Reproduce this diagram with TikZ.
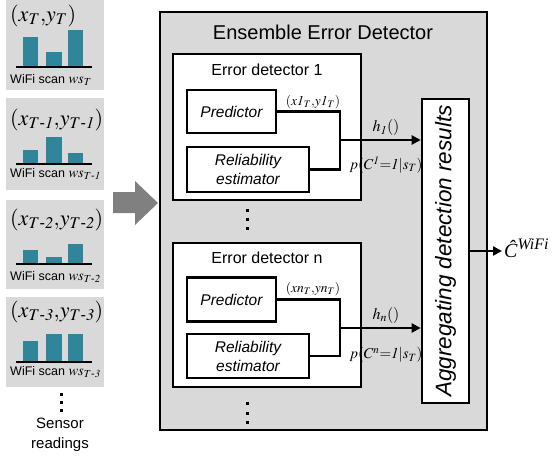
\documentclass[tikz,border=0pt]{standalone}
\usepackage{amsmath}
\usepackage{mathptmx}
\usepackage[no-math]{fontspec}
\setmainfont{Liberation Sans}
\newfontfamily\serifit{Liberation Serif}
\usetikzlibrary{arrows.meta}
\definecolor{panelgray}{RGB}{217,217,217}
\definecolor{barteal}{RGB}{49,133,155}
\definecolor{arrowgray}{RGB}{128,128,128}

\begin{document}
\begin{tikzpicture}[x=1pt,y=-1pt,
    box/.style={draw,line width=2.6pt,fill=white,inner sep=0pt},
    inbox/.style={box,align=center,font=\fontsize{15.5}{19}\selectfont\itshape},
    flow/.style={line width=2.6pt},
    flowarrow/.style={flow,-{Triangle[length=9pt,width=9pt]}},
    lbl/.style={inner sep=0pt,font=\fontsize{15}{17}\selectfont},
    panel/.style={fill=panelgray},
    bar/.style={fill=barteal},
    axis/.style={line width=2.6pt},
    coordlbl/.style={anchor=west,inner sep=0pt,font=\fontsize{22}{24}\selectfont},
    scanlbl/.style={anchor=west,inner sep=0pt,font=\fontsize{12.5}{14}\selectfont}]
    \useasboundingbox (0,0) rectangle (556,457);

    \fill[panel] (6,0) rectangle (104,90);
    \node (c1) at (10,16) [coordlbl] {$(x_T{,}y_T)$};
    \fill[bar] (23,37) rectangle (38,67);
    \fill[bar] (46,52) rectangle (62,67);
    \fill[bar] (68,30) rectangle (83,67);
    \draw[axis] (16,67) -- (92,67);
    \node (w1) at (10,80) [scanlbl] {WiFi scan \fontsize{14.5}{16}\selectfont$ws_T$};

    \fill[panel] (6,98) rectangle (104,190);
    \node (c2) at (10,120) [coordlbl] {$(x_{T\text{-}\mathit{1}}{,}y_{T\text{-}\mathit{1}})$};
    \fill[bar] (23,150) rectangle (38,164);
    \fill[bar] (46,137) rectangle (62,164);
    \fill[bar] (68,153) rectangle (83,164);
    \draw[axis] (16,164) -- (92,164);
    \node (w2) at (10,174) [scanlbl] {WiFi scan \fontsize{14.5}{16}\selectfont$ws_{T\text{-}\mathit{1}}$};

    \fill[panel] (6,200) rectangle (104,289);
    \node (c3) at (10,220) [coordlbl] {$(x_{T\text{-}\mathit{2}}{,}y_{T\text{-}\mathit{2}})$};
    \fill[bar] (23,250) rectangle (38,264);
    \fill[bar] (46,257) rectangle (62,264);
    \fill[bar] (68,244) rectangle (83,264);
    \draw[axis] (16,264) -- (92,264);
    \node (w3) at (10,277) [scanlbl] {WiFi scan \fontsize{14.5}{16}\selectfont$ws_{T\text{-}\mathit{2}}$};

    \fill[panel] (6,297) rectangle (104,387);
    \node (c4) at (10,312) [coordlbl] {$(x_{T\text{-}\mathit{3}}{,}y_{T\text{-}\mathit{3}})$};
    \fill[bar] (23,341) rectangle (38,362);
    \fill[bar] (46,334) rectangle (62,362);
    \fill[bar] (68,334) rectangle (83,362);
    \draw[axis] (16,362) -- (92,362);
    \node (w4) at (10,372) [scanlbl] {WiFi scan \fontsize{14.5}{16}\selectfont$ws_{T\text{-}\mathit{3}}$};

    \fill (59.5,392.5) rectangle ++(3,3);
    \fill (59.5,400.5) rectangle ++(3,3);
    \fill (59.5,408.5) rectangle ++(3,3);
    \node (sensor) at (60,435) [align=center,font=\fontsize{15}{20}\selectfont] {Sensor\\readings};

    \fill[arrowgray] (113,192) -- (135,192) -- (135,181) -- (158,203) -- (135,225) -- (135,213) -- (113,213) -- cycle;

    \node (ens) at (323.5,221) [box,line width=2.2pt,fill=panelgray,minimum width=327pt,minimum height=418pt] {};
    \node (enstitle) at (323,32) [font=\fontsize{20}{22}\selectfont] {Ensemble Error Detector};

    \node (ed1) at (267,127) [box,minimum width=188pt,minimum height=146pt] {};
    \node (ed1title) at (267,70) [font=\fontsize{16}{18}\selectfont] {Error detector 1};
    \node (pred1) at (231.5,111.5) [inbox,minimum width=89pt,minimum height=43pt] {Predictor};
    \node (rel1) at (248,169.5) [inbox,minimum width=122pt,minimum height=45pt] {Reliability\\estimator};

    \node (edn) at (267,315) [box,minimum width=188pt,minimum height=144pt] {};
    \node (edntitle) at (267,258) [font=\fontsize{16}{18}\selectfont] {Error detector n};
    \node (predn) at (231.5,299.5) [inbox,minimum width=89pt,minimum height=44pt] {Predictor};
    \node (reln) at (248,356) [inbox,minimum width=122pt,minimum height=44pt] {Reliability\\estimator};

    \node (agg) at (445.5,251) [box,minimum width=47pt,minimum height=304pt] {};
    \node (aggtext) at (agg.center) [rotate=90,font=\fontsize{22.5}{24}\selectfont\itshape] {Aggregating detection results};

    \coordinate (j1) at (340,140);
    \coordinate (jn) at (340,328);
    \draw[flow] (pred1) -| (j1) |- (rel1);
    \draw[flow] (predn) -| (jn) |- (reln);
    \draw[flowarrow] (j1) -- (j1 -| agg.west);
    \draw[flowarrow] (jn) -- (jn -| agg.west);

    \node (xy1) at (313,102) [lbl,font=\fontsize{13.5}{15}\selectfont] {$(x\mathit{1}_T{,}y\mathit{1}_T)$};
    \node (h1) at (386,128) [lbl,font=\fontsize{16}{18}\selectfont] {$h_{\mathit{1}}()$};
    \node (p1) at (386,165) [lbl] {$p(C^{\mathit{1}}{=}\mathit{1}|s_T)$};
    \node (xyn) at (313,289) [lbl,font=\fontsize{13.5}{15}\selectfont] {$(xn_T{,}yn_T)$};
    \node (hn) at (386,315) [lbl,font=\fontsize{16}{18}\selectfont] {$h_n()$};
    \node (pn) at (386,355) [lbl] {$p(C^n{=}\mathit{1}|s_T)$};

    \fill (245.5,208.5) rectangle ++(3,3);
    \fill (245.5,217.5) rectangle ++(3,3);
    \fill (245.5,226.5) rectangle ++(3,3);
    \fill (245.5,401.5) rectangle ++(3,3);
    \fill (245.5,411.5) rectangle ++(3,3);
    \fill (245.5,420.5) rectangle ++(3,3);

    \coordinate (out) at (502,251);
    \draw[flowarrow] (agg.east) -- (out);
    \node (chat) at (503,257) [anchor=base west,inner sep=1pt,font=\fontsize{20}{22}\selectfont\serifit\itshape] {Ĉ\raisebox{8pt}{\fontsize{16}{18}\selectfont WiFi}};
\end{tikzpicture}
\end{document}
